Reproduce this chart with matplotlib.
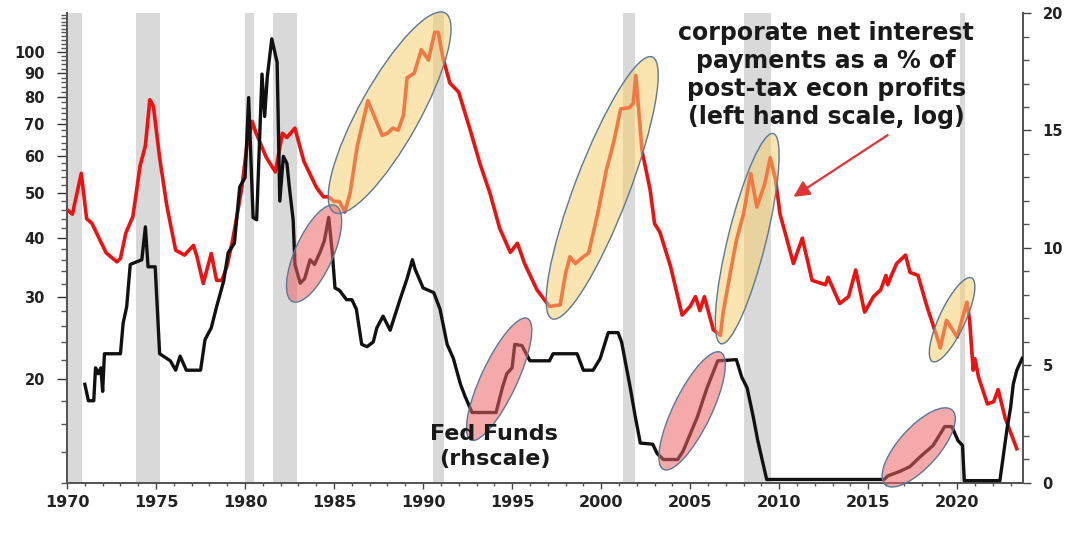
import numpy as np
import matplotlib
matplotlib.use("Agg")
import matplotlib.pyplot as plt
from matplotlib.patches import Ellipse
from matplotlib.transforms import IdentityTransform
from matplotlib.ticker import NullFormatter

plt.rcParams["font.family"] = ["DejaVu Sans"]
plt.rcParams["font.weight"] = "bold"

# corporate net interest payments as % of post-tax economic profits (left, log)
red_years = [1970.0, 1970.3, 1970.8, 1971.1, 1971.4, 1971.85, 1972.2, 1972.8, 1973.0, 1973.3,
             1973.7, 1974.1, 1974.4, 1974.65, 1974.85, 1975.2, 1975.6, 1976.1, 1976.6, 1977.1,
             1977.3, 1977.65, 1978.1, 1978.4, 1978.7, 1979.0, 1979.3, 1979.8, 1980.1, 1980.4,
             1980.6, 1981.2, 1981.7, 1982.1, 1982.35, 1982.8, 1983.3, 1984.0, 1984.4, 1984.7,
             1985.0, 1985.3, 1985.6, 1985.9, 1986.3, 1986.9, 1987.7, 1988.0, 1988.3, 1988.6,
             1988.9, 1989.1, 1989.5, 1989.9, 1990.3, 1990.65, 1990.85, 1991.1, 1991.5, 1992.0,
             1992.6, 1993.2, 1993.75, 1994.3, 1994.9, 1995.3, 1995.7, 1996.4, 1997.1, 1997.7,
             1998.0, 1998.25, 1998.55, 1999.0, 1999.3, 1999.8, 2000.3, 2000.7, 2001.1, 2001.6,
             2001.8, 2001.95, 2002.1, 2002.3, 2002.75, 2003.0, 2003.3, 2003.9, 2004.55, 2005.0,
             2005.3, 2005.55, 2005.8, 2006.3, 2006.7, 2006.85, 2007.25, 2007.6, 2008.0, 2008.4,
             2008.75, 2009.2, 2009.5, 2009.8, 2010.05, 2010.45, 2010.8, 2011.3, 2011.85, 2012.6,
             2012.75, 2013.4, 2013.9, 2014.3, 2014.8, 2015.3, 2015.7, 2016.0, 2016.1, 2016.35,
             2016.6, 2017.1, 2017.35, 2017.8, 2018.3, 2018.9, 2019.05, 2019.4, 2020.0, 2020.55,
             2020.7, 2020.9, 2021.0, 2021.2, 2021.7, 2022.05, 2022.3, 2022.7, 2023.35]
red_vals = [46, 45, 55, 44, 43, 39.6, 37.2, 35.6, 36.2, 41,
            44.5, 57, 63, 79, 76.5, 59.4, 47, 37.7, 36.8, 38.6,
            36.5, 32, 37.1, 32.5, 32.5, 35, 39.6, 50.6, 62.8, 71,
            67.3, 59.4, 55.4, 67, 65.6, 68.7, 58.4, 51.4, 49, 49,
            47.9, 47.9, 45.5, 49.9, 62.8, 78.6, 66.3, 67, 68.7, 68,
            73.3, 88, 90, 101, 96, 110, 110, 97.6, 85.8, 82,
            69, 57.6, 50, 42, 37.3, 39, 35.3, 31, 28.6, 28.8,
            33.6, 36.5, 35.3, 36.5, 37.2, 45, 56, 64, 75.5, 76,
            77.6, 89, 76, 61.4, 50.8, 43, 41.2, 34.8, 27.4, 28.6,
            30, 28, 30, 25.5, 24.8, 27.7, 33.6, 39.6, 45, 55,
            46.6, 52.4, 59.4, 53.3, 45, 39.6, 35.3, 40, 32.5, 31.8,
            33, 29, 30, 34.2, 27.8, 30, 31, 33.3, 31.8, 33.6,
            35.3, 36.8, 33.8, 33.3, 28.6, 24.4, 23.3, 26.7, 24.6, 29.2,
            26.7, 20.9, 22.1, 20.2, 17.7, 17.9, 19, 16.5, 14.2]

# Fed Funds rate (right scale)
fed_years = [1971.0, 1971.2, 1971.5, 1971.6, 1971.75, 1971.9, 1972.0, 1972.1, 1973.0, 1973.15,
             1973.35, 1973.55, 1974.2, 1974.4, 1974.55, 1974.95, 1975.2, 1975.8, 1976.1, 1976.35,
             1976.7, 1977.5, 1977.75, 1978.1, 1978.4, 1978.8, 1979.05, 1979.4, 1979.7, 1980.0,
             1980.2, 1980.45, 1980.65, 1980.95, 1981.1, 1981.25, 1981.5, 1981.8, 1981.95, 1982.15,
             1982.35, 1982.5, 1982.7, 1982.8, 1983.1, 1983.35, 1983.65, 1983.9, 1984.2, 1984.45,
             1984.7, 1984.9, 1985.05, 1985.3, 1985.7, 1986.0, 1986.25, 1986.55, 1986.85, 1987.2,
             1987.4, 1987.75, 1988.15, 1988.7, 1989.1, 1989.4, 1989.55, 1990.0, 1990.6, 1990.95,
             1991.35, 1991.7, 1992.1, 1992.35, 1992.75, 1993.9, 1994.1, 1994.45, 1994.7, 1995.0,
             1995.15, 1995.55, 1996.0, 1997.1, 1997.3, 1998.65, 1999.0, 1999.55, 1999.95, 2000.4,
             2000.95, 2001.15, 2001.4, 2001.65, 2001.9, 2002.2, 2002.9, 2003.15, 2003.5, 2004.3,
             2004.6, 2005.4, 2005.95, 2006.55, 2007.6, 2007.9, 2008.2, 2008.55, 2008.8, 2009.1,
             2009.3, 2015.9, 2016.1, 2016.8, 2017.35, 2017.9, 2018.65, 2019.3, 2019.7, 2020.05,
             2020.3, 2020.4, 2022.4, 2022.6, 2022.8, 2023.0, 2023.15, 2023.35, 2023.65]
fed_vals = [4.2, 3.5, 3.5, 4.9, 4.65, 4.9, 3.9, 5.5, 5.5, 6.8,
            7.5, 9.3, 9.5, 10.9, 9.2, 9.2, 5.5, 5.2, 4.8, 5.4,
            4.8, 4.8, 6.1, 6.6, 7.5, 8.6, 9.8, 10.2, 12.6, 13.0,
            16.4, 11.3, 11.2, 17.4, 15.6, 17.3, 18.9, 17.9, 12.0, 13.9,
            13.6, 12.5, 11.2, 9.3, 8.5, 8.7, 9.5, 9.3, 9.8, 10.3,
            11.3, 9.8, 8.3, 8.2, 7.8, 7.8, 7.4, 5.9, 5.8, 6.0,
            6.6, 7.1, 6.5, 7.8, 8.7, 9.5, 9.1, 8.3, 8.1, 7.4,
            5.9, 5.3, 4.2, 3.7, 3.0, 3.0, 3.0, 4.05, 4.65, 4.9,
            5.9, 5.85, 5.2, 5.2, 5.5, 5.5, 4.8, 4.8, 5.3, 6.4,
            6.4, 6.0, 5.0, 4.0, 2.9, 1.7, 1.65, 1.25, 1.0, 1.0,
            1.35, 2.8, 4.05, 5.2, 5.25, 4.5, 4.05, 2.8, 1.8, 0.8,
            0.15, 0.15, 0.3, 0.5, 0.7, 1.1, 1.6, 2.4, 2.4, 1.8,
            1.6, 0.1, 0.1, 1.2, 2.3, 3.2, 4.2, 4.8, 5.3]

# US recessions (start, end)
recessions = [(1969.9, 1970.85), (1973.85, 1975.2), (1980.0, 1980.5), (1981.55, 1982.9),
              (1990.55, 1991.2), (2001.25, 2001.9), (2008.0, 2009.55), (2020.15, 2020.45)]

# highlight ellipses: (start point, end point) on each scale
yellow_spans = [((1985.0, 45.4), (1991.24, 121.0)),
                ((1997.25, 26.9), (2002.87, 97.5)),
                ((2006.74, 23.8), (2009.67, 66.9)),
                ((2018.62, 21.8), (2020.81, 32.9))]
yellow_widths = [60, 54, 38, 26]
pink_spans = [((1982.67, 7.72), (1985.08, 11.81)),
              ((1992.68, 1.83), (1995.86, 7.0)),
              ((2003.51, 0.58), (2006.71, 5.56)),
              ((2015.96, -0.07), (2019.72, 3.1))]
pink_widths = [38, 36, 38, 40]

left_ticks = [20, 30, 40, 50, 60, 70, 80, 90, 100]
left_minor = list(range(12, 122, 2))
right_ticks = [0, 5, 10, 15, 20]
x_ticks = list(range(1970, 2021, 5))


def add_ellipse(ax, host, p0, p1, width, face):
    # ellipse drawn in pixel space between two data points
    (x0, y0), (x1, y1) = ax.transData.transform([p0, p1])
    length = np.hypot(x1 - x0, y1 - y0)
    angle = np.degrees(np.arctan2(y1 - y0, x1 - x0))
    centre = ((x0 + x1) / 2, (y0 + y1) / 2)
    fill = Ellipse(centre, length, width, angle=angle, facecolor=face, alpha=0.55,
                   edgecolor="none", transform=IdentityTransform(), clip_on=False, zorder=5)
    edge = Ellipse(centre, length, width, angle=angle, facecolor="none",
                   edgecolor="#5a7898", lw=1.0, transform=IdentityTransform(),
                   clip_on=False, zorder=6)
    host.add_artist(fill)
    host.add_artist(edge)


fig = plt.figure(figsize=(10.66, 5.35), dpi=100)
ax = fig.add_axes([0.0629, 0.0972, 0.8968, 0.8785])
ax2 = ax.twinx()

for s, e in recessions:
    ax.axvspan(s, e, color="#d9d9d9", lw=0, zorder=0)

ax.plot(red_years, red_vals, color="#f01010", lw=2.6, zorder=3)
ax.set_yscale("log")
ax.set_ylim(12, 121)
ax.set_xlim(1970, 2023.7)
ax.set_yticks(left_ticks)
ax.set_yticklabels([str(t) for t in left_ticks])
ax.set_yticks(left_minor, minor=True)
ax.yaxis.set_minor_formatter(NullFormatter())
ax.set_xticks(x_ticks)
ax.set_xticks(range(1970, 2024), minor=True)

ax2.plot(fed_years, fed_vals, color="#111111", lw=2.4, zorder=3)
ax2.set_ylim(0, 20)
ax2.set_yticks(right_ticks)
ax2.set_yticks(range(0, 21), minor=True)

for a in (ax, ax2):
    a.spines["top"].set_visible(False)
    for sp in a.spines.values():
        sp.set_color("#555555")
        sp.set_linewidth(1.3)

ax.tick_params(axis="y", which="major", direction="out", length=7, width=1,
               pad=9, labelsize=10.5, colors="#333333", labelcolor="#222222")
ax.tick_params(axis="y", which="minor", direction="out", length=4, width=1, colors="#555555")
ax.tick_params(axis="x", which="major", direction="out", length=4, width=1,
               pad=5, labelsize=11.5, colors="#444444", labelcolor="#222222")
ax.tick_params(axis="x", which="minor", direction="out", length=2.5, width=1, colors="#555555")
ax2.tick_params(axis="y", which="major", direction="out", length=6, width=1,
                pad=8, labelsize=10.5, colors="#444444", labelcolor="#222222")
ax2.tick_params(axis="y", which="minor", direction="out", length=4, width=1, colors="#555555")

for (p0, p1), w in zip(yellow_spans, yellow_widths):
    add_ellipse(ax, ax2, p0, p1, w, "#f6ce6e")
for (p0, p1), w in zip(pink_spans, pink_widths):
    add_ellipse(ax2, ax2, p0, p1, w, "#eb6464")

ax2.text(0.794, 0.868, "corporate net interest\npayments as a % of\npost-tax econ profits\n(left hand scale, log)",
         transform=ax2.transAxes, ha="center", va="center", fontsize=17,
         linespacing=1.22, color="#1a1a1a", zorder=8)
ax2.text(0.447, 0.077, "Fed Funds\n(rhscale)", transform=ax2.transAxes,
         ha="center", va="center", fontsize=16, linespacing=1.33,
         color="#1a1a1a", zorder=8)

ax.annotate("", xy=(2010.8, 49), xytext=(2016.1, 66.4), xycoords="data",
            arrowprops=dict(arrowstyle="-|>", color="#e03535", lw=1.6,
                            mutation_scale=24, shrinkA=0, shrinkB=0))

fig.savefig("out.png", dpi=100)
